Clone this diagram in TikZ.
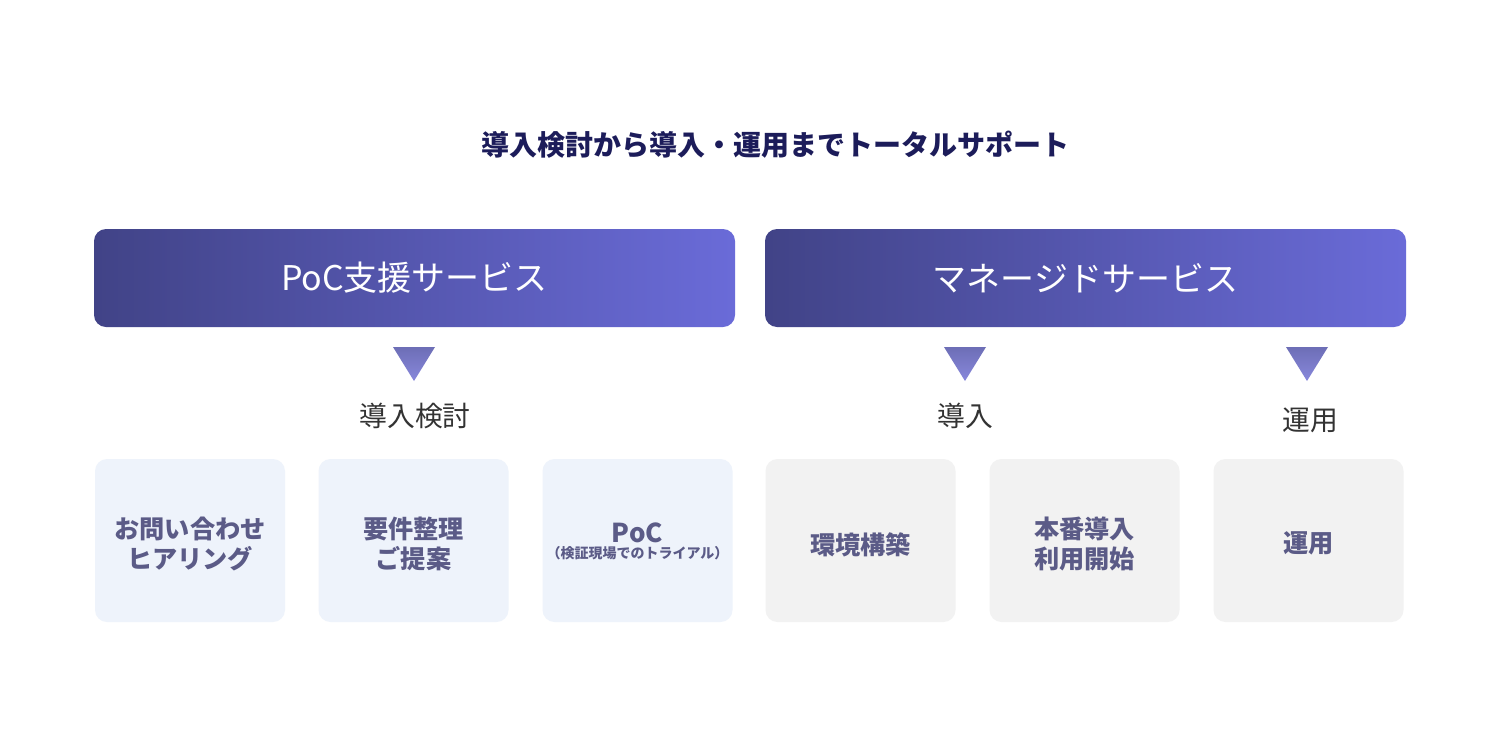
\documentclass[tikz,border=0pt]{standalone}
\usepackage{fontspec}
\newfontfamily\cjk{Noto Sans CJK JP}
\setmainfont{Noto Sans CJK JP}
\definecolor{navy}{HTML}{1C1C5A}
\definecolor{gradL}{HTML}{414387}
\definecolor{gradR}{HTML}{6A6BD8}
\definecolor{triT}{HTML}{6D6EB6}
\definecolor{triB}{HTML}{8888DC}
\definecolor{lblgray}{HTML}{333333}
\definecolor{boxtext}{HTML}{5B5B87}
\definecolor{bluebox}{HTML}{EEF3FB}
\definecolor{graybox}{HTML}{F2F2F2}
\tikzset{
  header/.style={rounded corners=6pt, left color=gradL, right color=gradR, draw=none,
    minimum width=320.5pt, minimum height=49pt, text=white, font=\cjk\fontsize{17}{20}\selectfont},
  card/.style={rounded corners=6pt, draw=none, minimum width=95pt, minimum height=81.5pt},
  cardtext/.style={text=boxtext, align=center, font=\cjk\bfseries\fontsize{12.6}{15}\selectfont},
  bluecard/.style={card, fill=bluebox},
  graycard/.style={card, fill=graybox},
  phaselbl/.style={text=lblgray, font=\cjk\fontsize{13.9}{16}\selectfont},
  tri/.style={top color=triT, bottom color=triB, draw=none}
}
\begin{document}
\begin{tikzpicture}[x=0.5pt,y=-0.5pt]
\useasboundingbox[fill=white] (0,0) rectangle (1500,750);
\node[text=navy, font=\cjk\bfseries\fontsize{14}{16}\selectfont] (title) at (775,145) {導入検討から導入・運用までトータルサポート};
\node[header] (poc) at (414.5,278) {PoC支援サービス};
\node[header] (managed) at (1085.5,278) {マネージドサービス};
\shade[tri] (393,347) -- (435,347) -- (414,381) -- cycle;
\shade[tri] (944,347) -- (986,347) -- (965,381) -- cycle;
\shade[tri] (1286,347) -- (1328,347) -- (1307,381) -- cycle;
\node[phaselbl] (ph1) at (415,416) {導入検討};
\node[phaselbl] (ph2) at (965,416) {導入};
\node[phaselbl] (ph3) at (1310,420) {運用};
\node[bluecard] (c1) at (190,540.5) {};
\node[bluecard] (c2) at (413.5,540.5) {};
\node[bluecard] (c3) at (637.5,540.5) {};
\node[graycard] (c4) at (860.5,540.5) {};
\node[graycard] (c5) at (1084.5,540.5) {};
\node[graycard] (c6) at (1308.5,540.5) {};
\node[cardtext] (t1) at (190,544) {お問い合わせ\\ヒアリング};
\node[cardtext] (t2) at (413.5,544) {要件整理\\ご提案};
\node[text=boxtext, font=\cjk\bfseries\fontsize{13}{15}\selectfont] (t3a) at (637.5,533) {PoC};
\node[text=boxtext, font=\cjk\bfseries\fontsize{7}{8}\selectfont] (t3b) at (637.5,553) {（検証現場でのトライアル）};
\node[cardtext] (t4) at (860.5,545) {環境構築};
\node[cardtext] (t5) at (1084.5,544) {本番導入\\利用開始};
\node[cardtext] (t6) at (1308.5,543) {運用};
\end{tikzpicture}
\end{document}
